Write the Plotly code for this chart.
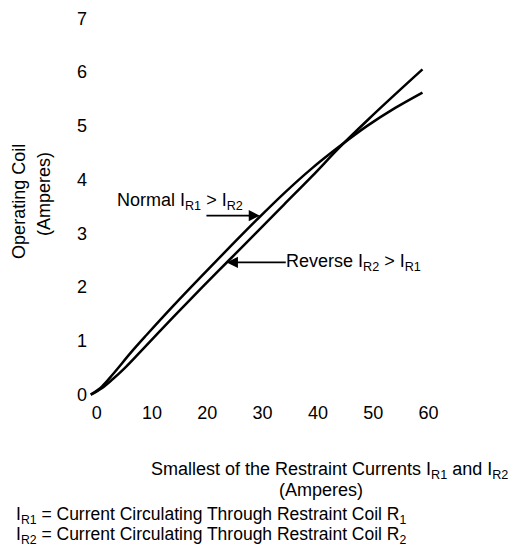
import plotly.graph_objects as go

# Data
normal_x = [0, 2, 4, 7.4, 10, 15, 20, 25, 30, 35, 40, 45, 50, 55, 60]
normal_y = [0, 0.15, 0.38, 0.80, 1.10, 1.66, 2.20, 2.73, 3.25, 3.75, 4.21, 4.62, 5.00, 5.33, 5.62]
reverse_x = [0, 2, 4, 6, 9, 15, 20, 25, 30, 35, 40, 45, 50, 55, 60]
reverse_y = [0, 0.12, 0.29, 0.48, 0.80, 1.45, 1.98, 2.50, 3.02, 3.54, 4.06, 4.60, 5.10, 5.58, 6.05]

x_ticks = [0, 10, 20, 30, 40, 50, 60]
y_ticks = [0, 1, 2, 3, 4, 5, 6, 7]

# Annotation anchor points (data coordinates of arrow tips)
normal_tip = (30.6, 3.33)
reverse_tip = (24.6, 2.46)

FONT = "Liberation Sans, Arial, sans-serif"
FS = 18

fig = go.Figure()
for xs, ys, nm in [(normal_x, normal_y, "Normal"), (reverse_x, reverse_y, "Reverse")]:
    fig.add_trace(go.Scatter(x=xs, y=ys, mode="lines",
                             line=dict(color="black", width=2.5, shape="spline", smoothing=1.0),
                             name=nm, showlegend=False, hoverinfo="skip"))

txtfont = dict(family=FONT, size=FS, color="black")

annotations = [
    # Normal arrow (shaft only)
    dict(x=normal_tip[0], y=normal_tip[1], xref="x", yref="y", text="", showarrow=True,
         ax=-55, ay=0, arrowhead=2, arrowsize=1.4, arrowwidth=1.6, arrowcolor="black"),
    # Normal label
    dict(x=normal_tip[0], y=normal_tip[1], xref="x", yref="y",
         text="Normal I<sub>R1</sub> > I<sub>R2</sub>", showarrow=False,
         xanchor="center", yanchor="middle",
         xshift=-80, yshift=14, font=txtfont),
    # Reverse arrow + label
    dict(x=reverse_tip[0], y=reverse_tip[1], xref="x", yref="y",
         text="Reverse I<sub>R2</sub> > I<sub>R1</sub>", showarrow=True,
         ax=127, ay=0, arrowhead=2, arrowsize=1.4, arrowwidth=1.6, arrowcolor="black",
         standoff=0, borderpad=0, font=txtfont),
]

# Pixel-placed annotations (converted to paper coordinates below)
W, H = 529, 560
L, R, T, B = 88.2, 100.7, 8.6, 159.6
pw, ph = W - L - R, H - T - B

def px(x, y, text, angle=0, xanchor="center", size=FS):
    return dict(x=(x - L) / pw, y=1 - (y - T) / ph, xref="paper", yref="paper",
                text=text, showarrow=False, textangle=angle,
                xanchor=xanchor, yanchor="middle",
                font=dict(family=FONT, size=size, color="black"))

annotations += [
    px(19, 199, "Operating Coil", -90),
    px(44, 192, "(Amperes)", -90),
    px(330, 472, "Smallest of the Restraint Currents I<sub>R1</sub> and I<sub>R2</sub>"),
    px(321, 492, "(Amperes)"),
    px(14, 517, "I<sub>R1</sub> = Current Circulating Through Restraint Coil R<sub>1</sub>", xanchor="left", size=17.5),
    px(14, 538, "I<sub>R2</sub> = Current Circulating Through Restraint Coil R<sub>2</sub>", xanchor="left", size=17.5),
]

fig.update_layout(
    width=W, height=H,
    margin=dict(l=L, r=R, t=T, b=B, pad=0),
    paper_bgcolor="white", plot_bgcolor="white",
    font=txtfont,
    showlegend=False,
    annotations=annotations,
    xaxis=dict(range=[-0.5, 61], tickvals=x_ticks, ticktext=[str(v) for v in x_ticks],
               showgrid=False, zeroline=False, showline=False, ticks="",
               ticklabelshift=6, tickfont=txtfont),
    yaxis=dict(range=[-0.1, 7.1], tickvals=y_ticks, ticktext=[str(v) for v in y_ticks],
               showgrid=False, zeroline=False, showline=False, ticks="",
               tickfont=txtfont),
)

fig.write_html("out.html")
